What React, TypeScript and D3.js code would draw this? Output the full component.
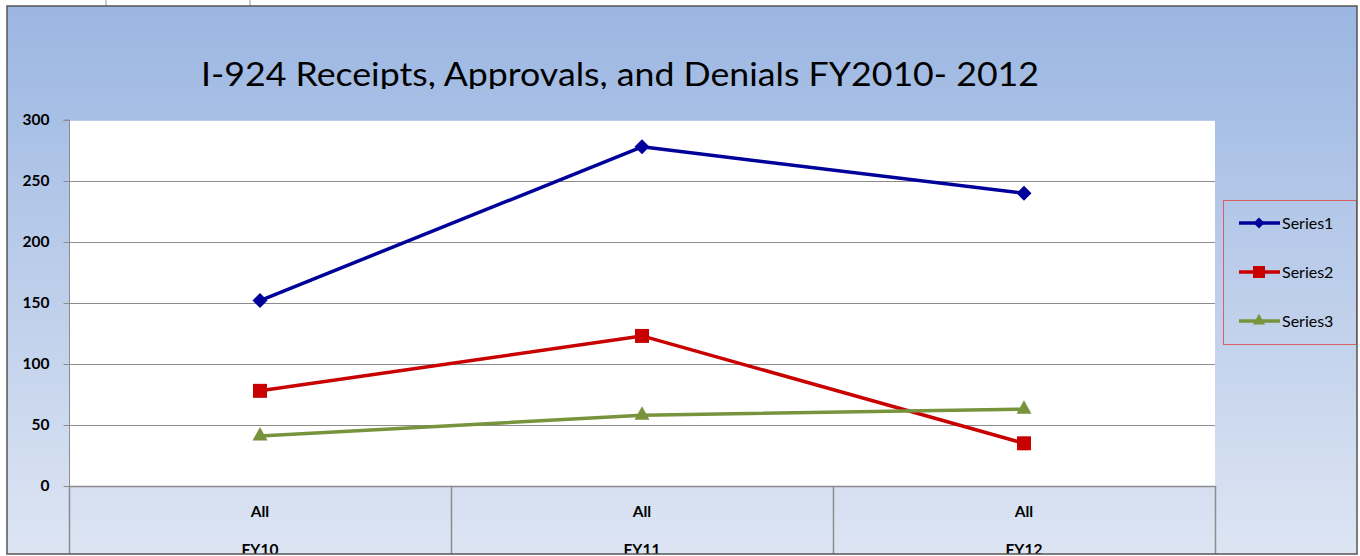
import { useEffect, useRef } from "react";
import * as d3 from "d3";

const categories = ["FY10", "FY11", "FY12"];
const subLabels = ["All", "All", "All"];
const seriesNames = ["Series1", "Series2", "Series3"];
const series1 = [152, 278, 240];
const series2 = [78, 123, 35];
const series3 = [41, 58, 63];
const yTicks = [0, 50, 100, 150, 200, 250, 300];
const title = "I-924 Receipts, Approvals, and Denials FY2010- 2012";

const colors = ["#00009a", "#c80000", "#77933c"];

// marker shapes, r = half width
const markerPath = (kind: number, r: number) => {
  if (kind === 0) return `M0,${-r}L${r},0L0,${r}L${-r},0Z`;
  if (kind === 1) return `M${-r},${-r}H${r}V${r}H${-r}Z`;
  return `M0,${-r * 1.05}L${r},${r * 0.75}H${-r}Z`;
};

const App = () => {
  const ref = useRef<SVGSVGElement | null>(null);

  useEffect(() => {
    const width = 1360, height = 556;
    const frame = { left: 7, top: 6, right: 1357, bottom: 554 };
    const plot = { left: 69, top: 120, right: 1215, bottom: 486 };
    const font = "Lato, 'Open Sans', sans-serif";

    const svg = d3.select(ref.current);
    svg.selectAll("*").remove();
    svg.attr("width", width).attr("height", height);

    const defs = svg.append("defs");
    const grad = defs.append("linearGradient")
      .attr("id", "bg").attr("x1", 0).attr("y1", 0).attr("x2", 0).attr("y2", 1);
    grad.append("stop").attr("offset", "0%").attr("stop-color", "#9bb6e2");
    grad.append("stop").attr("offset", "100%").attr("stop-color", "#dde5f3");

    defs.append("clipPath").attr("id", "frameClip")
      .append("rect")
      .attr("x", frame.left).attr("y", frame.top)
      .attr("width", frame.right - frame.left).attr("height", frame.bottom - frame.top);
    defs.append("clipPath").attr("id", "titleClip")
      .append("rect").attr("x", 0).attr("y", 0).attr("width", width).attr("height", 89);

    // spreadsheet cell lines above the chart
    [106, 250].forEach(x => {
      svg.append("line").attr("x1", x).attr("x2", x).attr("y1", 0).attr("y2", frame.top)
        .attr("stroke", "#999").attr("stroke-width", 1);
    });

    // background
    svg.append("rect")
      .attr("x", frame.left).attr("y", frame.top)
      .attr("width", frame.right - frame.left).attr("height", frame.bottom - frame.top)
      .attr("fill", "url(#bg)");

    const x = d3.scaleBand().domain(categories).range([plot.left, plot.right]);
    const y = d3.scaleLinear().domain([0, 300]).range([plot.bottom, plot.top]);

    // plot area
    svg.append("rect")
      .attr("x", plot.left).attr("y", plot.top)
      .attr("width", plot.right - plot.left).attr("height", plot.bottom - plot.top)
      .attr("fill", "#fff");
    svg.append("line")
      .attr("x1", plot.left).attr("x2", plot.right).attr("y1", plot.top + 0.5).attr("y2", plot.top + 0.5)
      .attr("stroke", "#b7cbea").attr("stroke-width", 1);

    const g = svg.append("g").attr("clip-path", "url(#frameClip)");

    // gridlines
    yTicks.filter(t => t > 0 && t < 300).forEach(t => {
      g.append("line")
        .attr("x1", plot.left).attr("x2", plot.right)
        .attr("y1", Math.round(y(t)) + 0.5).attr("y2", Math.round(y(t)) + 0.5)
        .attr("stroke", "#8c8c8c").attr("stroke-width", 1);
    });

    // y axis
    const yAxis = g.append("g")
      .attr("transform", `translate(${plot.left + 0.5},0)`)
      .call(d3.axisLeft(y).tickValues(yTicks).tickSize(6).tickPadding(14));
    yAxis.select(".domain").attr("stroke", "#8c8c8c").attr("d", `M-6,${plot.top}H0V${frame.bottom}`);
    yAxis.selectAll(".tick line").attr("stroke", "#8c8c8c");
    yAxis.selectAll(".tick text")
      .attr("font-family", font)
      .attr("font-weight", "bold").attr("font-size", 15.5).attr("fill", "#000");

    // x axis category boxes
    g.append("line")
      .attr("x1", plot.left).attr("x2", plot.right)
      .attr("y1", plot.bottom + 0.5).attr("y2", plot.bottom + 0.5)
      .attr("stroke", "#8c8c8c").attr("stroke-width", 1.5);
    [...categories.map(c => x(c) as number), plot.right].forEach(xx => {
      g.append("line")
        .attr("x1", xx + 0.5).attr("x2", xx + 0.5)
        .attr("y1", plot.bottom).attr("y2", frame.bottom)
        .attr("stroke", "#8c8c8c").attr("stroke-width", 1.5);
    });
    categories.forEach((c, i) => {
      const cx = (x(c) as number) + x.bandwidth() / 2;
      g.append("text").attr("x", cx).attr("y", 517)
        .attr("text-anchor", "middle")
        .attr("font-family", font)
        .attr("font-weight", "bold").attr("font-size", 15.5)
        .text(subLabels[i]);
      g.append("text").attr("x", cx).attr("y", 555)
        .attr("text-anchor", "middle")
        .attr("font-family", font)
        .attr("font-weight", "bold").attr("font-size", 15.5)
        .text(c);
    });

    // series
    const allSeries = [series1, series2, series3];
    const markerR = [7.5, 7, 7.5];
    allSeries.forEach((vals, si) => {
      const pts = vals.map((v, i) => [(x(categories[i]) as number) + x.bandwidth() / 2, y(v)] as [number, number]);
      g.append("path")
        .attr("d", d3.line()(pts))
        .attr("fill", "none").attr("stroke", colors[si]).attr("stroke-width", 3.5)
        .attr("stroke-linejoin", "round");
      pts.forEach(p => {
        g.append("path")
          .attr("transform", `translate(${p[0]},${p[1] + (si === 2 ? -1 : 0)})`)
          .attr("d", markerPath(si, markerR[si]))
          .attr("fill", colors[si]);
      });
    });

    // title
    svg.append("text")
      .attr("clip-path", "url(#titleClip)")
      .attr("x", 620).attr("y", 86)
      .attr("text-anchor", "middle")
      .attr("font-family", font)
      .attr("font-size", 33)
      .attr("textLength", 838).attr("lengthAdjust", "spacingAndGlyphs")
      .text(title);

    // legend
    const lg = svg.append("g");
    lg.append("rect")
      .attr("x", 1223.5).attr("y", 200.5).attr("width", 133).attr("height", 144)
      .attr("fill", "none").attr("stroke", "#d96060").attr("stroke-width", 1);
    const legendR = [5.5, 6, 6];
    seriesNames.forEach((name, i) => {
      const ly = 223 + i * 49;
      lg.append("line").attr("x1", 1239).attr("x2", 1280).attr("y1", ly).attr("y2", ly)
        .attr("stroke", colors[i]).attr("stroke-width", 3.5);
      lg.append("path")
        .attr("transform", `translate(1259,${ly + (i === 2 ? -1 : 0)})`)
        .attr("d", markerPath(i, legendR[i]))
        .attr("fill", colors[i]);
      lg.append("text").attr("x", 1282).attr("y", ly + 6)
        .attr("font-family", font)
        .attr("font-size", 16).text(name);
    });

    // frame border
    svg.append("rect")
      .attr("x", frame.left).attr("y", frame.top)
      .attr("width", frame.right - frame.left).attr("height", frame.bottom - frame.top)
      .attr("fill", "none").attr("stroke", "#555").attr("stroke-width", 1.5);
  }, []);

  return <svg ref={ref} style={{ position: "absolute", left: 0, top: 0 }}></svg>;
};

export default App;
